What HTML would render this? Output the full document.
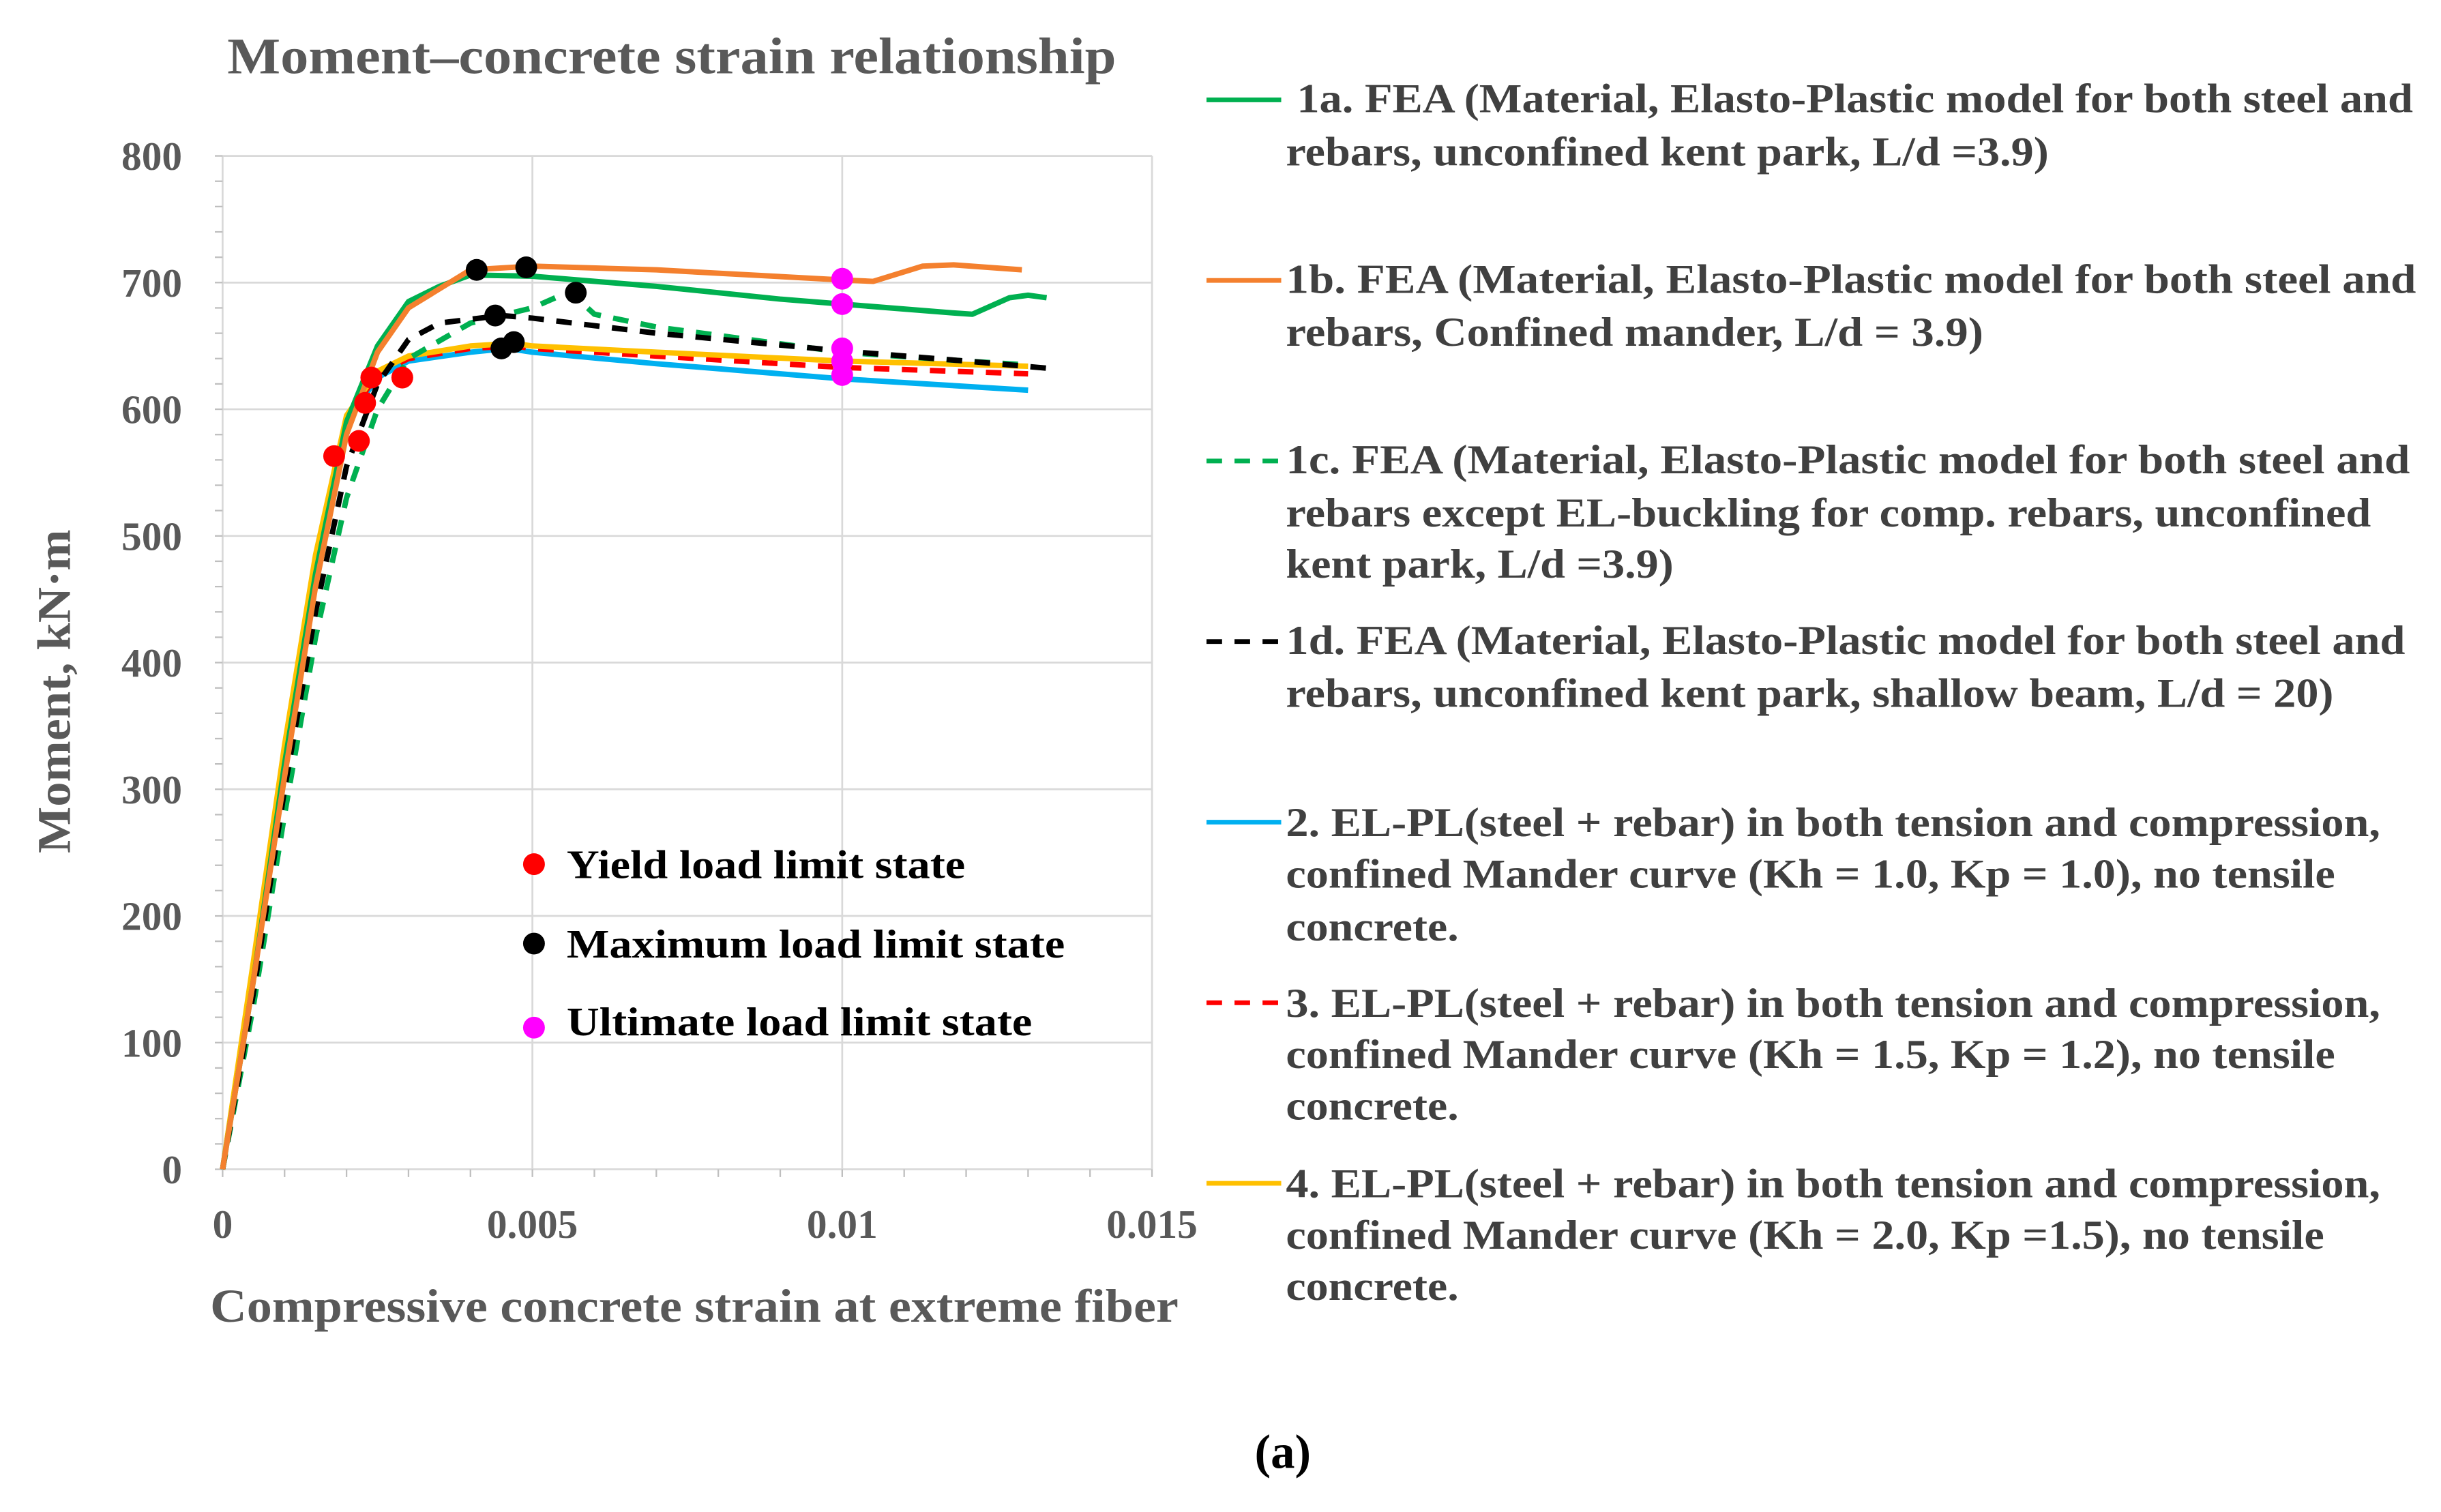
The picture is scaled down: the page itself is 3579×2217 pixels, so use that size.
<!DOCTYPE html>
<html><head><meta charset="utf-8"><style>
html,body{margin:0;padding:0;background:#fff}
svg{display:block}
text{font-family:"Liberation Serif",serif;font-weight:bold}
</style></head><body>
<svg id="chart" width="3579" height="2217" viewBox="0 0 1568 971" xmlns="http://www.w3.org/2000/svg">
<rect width="1568" height="971" fill="#fff"/>
<text x="146" y="47" font-size="33" fill="#595959" textLength="571" lengthAdjust="spacingAndGlyphs">Moment–concrete strain relationship</text>
<g id="grid"></g>
<g id="series"></g>
<g id="markers"></g>
<text transform="translate(45,444) rotate(-90)" text-anchor="middle" font-size="30" fill="#595959" textLength="208" lengthAdjust="spacingAndGlyphs">Moment, kN·m</text>
<text x="135" y="849" font-size="30" fill="#595959" textLength="622" lengthAdjust="spacingAndGlyphs">Compressive concrete strain at extreme fiber</text>
<g font-size="26" fill="#000">
<circle cx="343" cy="555" r="7" fill="#ff0000"/><text x="364" y="564" textLength="256" lengthAdjust="spacingAndGlyphs">Yield load limit state</text>
<circle cx="343" cy="606" r="7" fill="#000"/><text x="364" y="615" textLength="320" lengthAdjust="spacingAndGlyphs">Maximum load limit state</text>
<circle cx="343" cy="660" r="7" fill="#ff00ff"/><text x="364" y="665" textLength="299" lengthAdjust="spacingAndGlyphs">Ultimate load limit state</text>
</g>
<g font-size="26.5" fill="#404040">
<line x1="775" y1="64" x2="823" y2="64" stroke="#00b050" stroke-width="3"/>
<text x="833" y="72" textLength="717" lengthAdjust="spacingAndGlyphs">1a. FEA (Material, Elasto-Plastic model for both steel and</text>
<text x="826" y="106" textLength="490" lengthAdjust="spacingAndGlyphs">rebars, unconfined kent park, L/d =3.9)</text>
<line x1="775" y1="180" x2="823" y2="180" stroke="#f4802e" stroke-width="3"/>
<text x="826" y="188" textLength="726" lengthAdjust="spacingAndGlyphs">1b.  FEA (Material, Elasto-Plastic model for both steel and</text>
<text x="826" y="222" textLength="448" lengthAdjust="spacingAndGlyphs">rebars, Confined mander, L/d = 3.9)</text>
<line x1="775" y1="296" x2="823" y2="296" stroke="#00b050" stroke-width="3" stroke-dasharray="10,8"/>
<text x="826" y="304" textLength="722" lengthAdjust="spacingAndGlyphs">1c.  FEA (Material, Elasto-Plastic model for both steel and</text>
<text x="826" y="338" textLength="697" lengthAdjust="spacingAndGlyphs">rebars except EL-buckling for comp. rebars, unconfined</text>
<text x="826" y="371" textLength="249" lengthAdjust="spacingAndGlyphs">kent park, L/d =3.9)</text>
<line x1="775" y1="412" x2="823" y2="412" stroke="#000" stroke-width="3" stroke-dasharray="10,8"/>
<text x="826" y="420" textLength="719" lengthAdjust="spacingAndGlyphs">1d. FEA (Material, Elasto-Plastic model for both steel and</text>
<text x="826" y="454" textLength="673" lengthAdjust="spacingAndGlyphs">rebars, unconfined kent park, shallow beam, L/d = 20)</text>
<line x1="775" y1="528" x2="823" y2="528" stroke="#00b0f0" stroke-width="3"/>
<text x="826" y="537" textLength="703" lengthAdjust="spacingAndGlyphs">2. EL-PL(steel + rebar) in both tension and compression,</text>
<text x="826" y="570" textLength="674" lengthAdjust="spacingAndGlyphs">confined Mander curve (Kh = 1.0, Kp = 1.0), no tensile</text>
<text x="826" y="604" textLength="111" lengthAdjust="spacingAndGlyphs">concrete.</text>
<line x1="775" y1="644" x2="823" y2="644" stroke="#ff0000" stroke-width="3" stroke-dasharray="10,8"/>
<text x="826" y="653" textLength="703" lengthAdjust="spacingAndGlyphs">3. EL-PL(steel + rebar) in both tension and compression,</text>
<text x="826" y="686" textLength="674" lengthAdjust="spacingAndGlyphs">confined Mander curve (Kh = 1.5, Kp = 1.2), no tensile</text>
<text x="826" y="719" textLength="111" lengthAdjust="spacingAndGlyphs">concrete.</text>
<line x1="775" y1="760" x2="823" y2="760" stroke="#ffc000" stroke-width="3"/>
<text x="826" y="769" textLength="703" lengthAdjust="spacingAndGlyphs">4. EL-PL(steel + rebar) in both tension and compression,</text>
<text x="826" y="802" textLength="667" lengthAdjust="spacingAndGlyphs">confined Mander curve (Kh = 2.0, Kp =1.5), no tensile</text>
<text x="826" y="835" textLength="111" lengthAdjust="spacingAndGlyphs">concrete.</text>
</g>
<text x="824" y="943" text-anchor="middle" font-size="31" fill="#000">(a)</text>
</svg>
<script>
const xTicks=[0,0.005,0.01,0.015];
const xTickLabels=["0","0.005","0.01","0.015"];
const yTicks=[0,100,200,300,400,500,600,700,800];
const s1aX=[0,0.0005,0.001,0.0015,0.002,0.0025,0.003,0.0035,0.004,0.005,0.007,0.009,0.01,0.0118,0.0121,0.0127,0.013,0.0133];
const s1aY=[0,150,320,470,590,650,685,697,706,705,697,687,683,676,675,688,690,688];
const s1bX=[0,0.0005,0.001,0.0015,0.002,0.0025,0.003,0.0035,0.004,0.005,0.007,0.01,0.0105,0.0113,0.0118,0.0129];
const s1bY=[0,150,310,460,580,645,680,695,710,713,710,702,701,713,714,710];
const s1cX=[0,0.0005,0.001,0.0015,0.002,0.0025,0.003,0.004,0.005,0.0056,0.006,0.007,0.01,0.012,0.013];
const s1cY=[0,130,280,420,530,600,640,668,680,693,675,665,645,638,635];
const s1dX=[0,0.0005,0.001,0.0015,0.002,0.0025,0.003,0.0035,0.0045,0.005,0.007,0.01,0.012,0.0134];
const s1dY=[0,140,300,440,555,620,655,668,674,672,660,646,638,632];
const s2X=[0,0.0005,0.001,0.0015,0.002,0.0025,0.003,0.004,0.0046,0.005,0.007,0.01,0.013];
const s2Y=[0,160,330,480,590,625,638,645,648,645,636,624,615];
const s3X=[0,0.0005,0.001,0.0015,0.002,0.0025,0.003,0.004,0.0047,0.005,0.007,0.01,0.013];
const s3Y=[0,160,330,480,592,628,640,648,650,648,642,633,628];
const s4X=[0,0.0005,0.001,0.0015,0.002,0.0025,0.003,0.004,0.0047,0.005,0.007,0.01,0.013];
const s4Y=[0,165,335,485,595,630,642,650,652,650,645,638,634];
const yieldX=[0.0018,0.0022,0.0023,0.0024,0.0029];
const yieldY=[563,575,605,625,625];
const maxX=[0.0041,0.0049,0.0044,0.0057,0.0045,0.0047];
const maxY=[710,712,674,692,648,653];
const ultX=[0.01,0.01,0.01,0.01,0.01];
const ultY=[703,683,648,638,627];

const NS="http://www.w3.org/2000/svg";
const X0=143,X1=740,Y0=751,Y1=100;
function sx(v){return X0+(v/0.015)*(X1-X0);}
function sy(v){return Y0-(v/800)*(Y0-Y1);}
function mk(tag,attrs,parent){const e=document.createElementNS(NS,tag);for(const k in attrs)e.setAttribute(k,attrs[k]);parent.appendChild(e);return e;}
const grid=document.getElementById('grid');
yTicks.forEach(t=>{
  const l=mk('line',{x1:X0,x2:X1,y1:sy(t),y2:sy(t),stroke:'#d9d9d9','stroke-width':1.2},grid);
  
  
  const tx=mk('text',{x:117,y:sy(t)+9,'text-anchor':'end','font-size':26,fill:'#595959'},grid);
  tx.textContent=t;
  
  
});
xTicks.forEach((t,i)=>{
  const l=mk('line',{x1:sx(t),x2:sx(t),y1:Y1,y2:Y0,stroke:'#d9d9d9','stroke-width':1.2},grid);
  
  
  const tx=mk('text',{x:sx(t),y:795,'text-anchor':'middle','font-size':26,fill:'#595959'},grid);
  tx.textContent=xTickLabels[i];
  
  
});
for(let v=0;v<=800;v+=20){mk('line',{x1:X0-5,x2:X0,y1:sy(v),y2:sy(v),stroke:'#bfbfbf','stroke-width':1},grid);}
for(let v=0;v<=0.015001;v+=0.001){mk('line',{x1:sx(v),x2:sx(v),y1:Y0,y2:Y0+5,stroke:'#bfbfbf','stroke-width':1},grid);}
const series=document.getElementById('series');
function line(xs,ys,color,dash,name){
  const d=xs.map((x,i)=>(i?'L':'M')+sx(x).toFixed(1)+','+sy(ys[i]).toFixed(1)).join(' ');
  const p=mk('path',{d:d,fill:'none',stroke:color,'stroke-width':3.5,'stroke-linejoin':'round'},series);
  if(dash)p.setAttribute('stroke-dasharray','10,8');
  
  
}
line(s2X,s2Y,'#00b0f0',false,'series-2-line');
line(s3X,s3Y,'#ff0000',true,'series-3-line');
line(s4X,s4Y,'#ffc000',false,'series-4-line');
line(s1cX,s1cY,'#00b050',true,'series-1c-line');
line(s1dX,s1dY,'#000000',true,'series-1d-line');
line(s1aX,s1aY,'#00b050',false,'series-1a-line');
line(s1bX,s1bY,'#f4802e',false,'series-1b-line');
const markers=document.getElementById('markers');
function dots(xs,ys,color,name){
  xs.forEach((x,i)=>{
    const c=mk('circle',{cx:sx(x),cy:sy(ys[i]),r:7,fill:color},markers);
    
    
  });
}
dots(yieldX,yieldY,'#ff0000','yield-point');
dots(maxX,maxY,'#000000','max-load-point');
dots(ultX,ultY,'#ff00ff','ultimate-point');
</script>
</body></html>
